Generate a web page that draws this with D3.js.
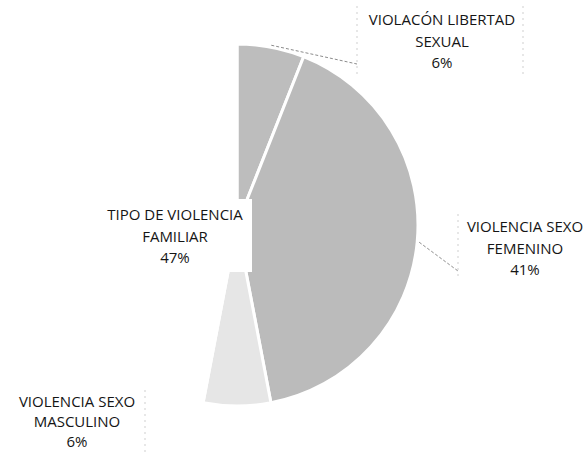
<!DOCTYPE html>
<html>
<head>
<meta charset="utf-8">
<script src="https://cdn.jsdelivr.net/npm/d3@7"></script>
<style>
  html, body { margin: 0; padding: 0; background: #fff; }
  svg { display: block; }
  .lbl { font-family: "Open Sans", "Lato", sans-serif; font-size: 15px; fill: #151515; }
</style>
</head>
<body>
<svg id="chart" width="588" height="453"></svg>
<script>
// Slices, clockwise from 12 o'clock
const categories = [
  "VIOLACÓN LIBERTAD SEXUAL",
  "VIOLENCIA SEXO FEMENINO",
  "VIOLENCIA SEXO MASCULINO",
  "TIPO DE VIOLENCIA FAMILIAR"
];
const values = [6, 41, 6, 47];
const percentLabels = ["6%", "41%", "6%", "47%"];
const labelLines = [
  ["VIOLACÓN LIBERTAD", "SEXUAL"],
  ["VIOLENCIA SEXO", "FEMENINO"],
  ["VIOLENCIA SEXO", "MASCULINO"],
  ["TIPO DE VIOLENCIA", "FAMILIAR"]
];
const sliceColors = ["#bdbdbd", "#bbbbbb", "#e6e6e6", "#ffffff"];

const svg = d3.select("#chart");
const cx = 237, cy = 225, radius = 181;

const pie = d3.pie().sort(null).value(d => d)(values);
const arc = d3.arc().innerRadius(0).outerRadius(radius);

const g = svg.append("g").attr("transform", `translate(${cx},${cy})`);

g.selectAll("path.slice")
  .data(pie)
  .join("path")
  .attr("class", "slice")
  .attr("d", arc)
  .attr("fill", (d, i) => sliceColors[i])
  .attr("stroke", "#fff")
  .attr("stroke-width", 3)
  .attr("stroke-linejoin", "round");

// Label placements: centre x, first baseline y, line step
const labelPos = [
  { x: 442, y: 25,  step: 21.5 },
  { x: 525, y: 232, step: 21.5 },
  { x: 77,  y: 407, step: 20 },
  { x: 175, y: 220, step: 21.5 }
];

// Leader lines from each small-label slice's mid-angle to its label
const leaders = [
  { i: 0, to: [357, 64] },
  { i: 1, to: [458, 271] }
];
leaders.forEach(l => {
  const d = pie[l.i];
  const a = (d.startAngle + d.endAngle) / 2;
  const p = [Math.sin(a) * (radius + 2) + cx, -Math.cos(a) * (radius + 2) + cy];
  svg.append("line")
    .attr("x1", p[0]).attr("y1", p[1])
    .attr("x2", l.to[0]).attr("y2", l.to[1])
    .attr("stroke", "#8c8c8c")
    .attr("stroke-width", 1)
    .attr("stroke-dasharray", "3,2");
});

// Faint label box edges
const boxEdges = [
  [357, 6, 357, 76], [523, 6, 523, 76],
  [458, 214, 458, 276],
  [145, 390, 145, 452]
];
boxEdges.forEach(e => {
  svg.append("line")
    .attr("x1", e[0]).attr("y1", e[1]).attr("x2", e[2]).attr("y2", e[3])
    .attr("stroke", "#cfcfcf")
    .attr("stroke-width", 1)
    .attr("stroke-dasharray", "2,4");
});

// Backing box behind the largest slice's label, covering the pie centre
svg.append("rect")
  .attr("x", 98).attr("y", 199)
  .attr("width", 154).attr("height", 73)
  .attr("fill", "#fff");

labelPos.forEach((p, i) => {
  const t = svg.append("text")
    .attr("class", "lbl")
    .attr("text-anchor", "middle")
    .attr("x", p.x).attr("y", p.y);
  labelLines[i].concat([percentLabels[i]]).forEach((line, k) => {
    t.append("tspan")
      .attr("x", p.x)
      .attr("dy", k === 0 ? 0 : p.step)
      .text(line);
  });
});
</script>
</body>
</html>
